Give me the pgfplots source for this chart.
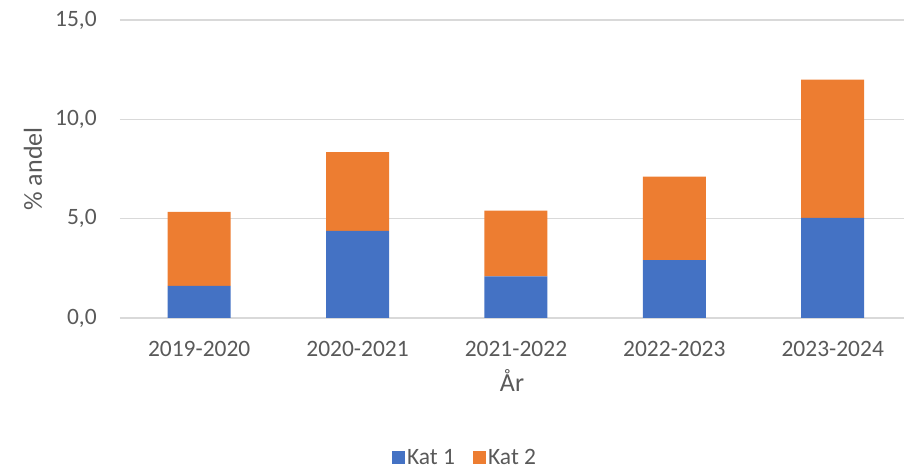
\documentclass[border=0pt]{standalone}
\usepackage{fontspec}
\setmainfont{Carlito}
\usepackage{pgfplots}
\pgfplotsset{compat=1.18}
\definecolor{kblue}{HTML}{4472C4}
\definecolor{korange}{HTML}{ED7D31}
\definecolor{kgrid}{HTML}{D9D9D9}
\definecolor{ktext}{HTML}{595959}
\begin{document}
\begin{tikzpicture}
\path[use as bounding box] (-90pt,-114pt) rectangle (588pt,238.5pt);
\begin{axis}[
  at={(0,0)}, anchor=south west,
  scale only axis,
  width=588pt, height=223.5pt,
  ybar stacked,
  bar width=47.25pt,
  xmin=-0.5, xmax=4.45,
  ymin=0, ymax=15,
  ytick={0,5,10,15},
  xtick={0,1,2,3,4},
  xticklabels={2019-2020,2020-2021,2021-2022,2022-2023,2023-2024},
  major tick length=0pt,
  axis line style={draw=none},
  ymajorgrids,
  grid style={kgrid, line width=0.9pt},
  /pgf/number format/.cd, fixed, fixed zerofill, precision=1, use comma, assume math mode=true,
  /pgfplots/.cd,
  ticklabel style={font=\fontsize{17.6}{21}\selectfont, text=ktext},
  xticklabel style={anchor=base, yshift=-29.25pt, inner sep=0pt},
  yticklabel style={anchor=east, xshift=-17.25pt, inner sep=0pt},
  xlabel={År},
  ylabel={\% andel},
  xlabel style={at={(axis description cs:0.5,-0.2475)}, anchor=base, font=\fontsize{19.5}{23}\selectfont, text=ktext},
  ylabel style={at={(axis description cs:-0.11097,0.5)}, anchor=center, font=\fontsize{19.5}{23}\selectfont, text=ktext},
  legend style={at={(axis description cs:0.44,-0.468)}, anchor=center, draw=none, fill=none, inner sep=0pt,
    legend columns=2, font=\fontsize{17.6}{21}\selectfont, text=ktext,
    nodes={inner sep=1.5pt, anchor=west},
    /tikz/every even column/.append style={column sep=12pt}},
  legend image code/.code={\fill[#1] (0pt,-4.9pt) rectangle (9.9pt,4.9pt);},
]
\addplot[fill=kblue, draw=none] coordinates {(0,1.62) (1,4.39) (2,2.09) (3,2.91) (4,5.04)};
\addplot[fill=korange, draw=none] coordinates {(0,3.72) (1,3.96) (2,3.31) (3,4.20) (4,6.96)};
\legend{Kat 1, Kat 2}
\end{axis}
\end{tikzpicture}
\end{document}
